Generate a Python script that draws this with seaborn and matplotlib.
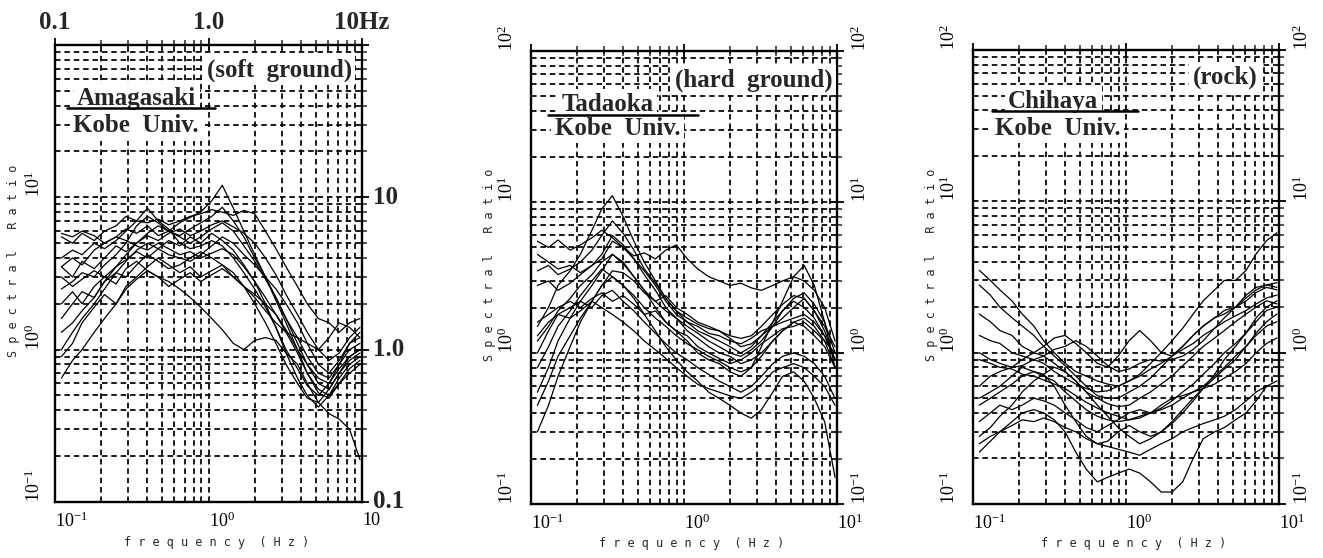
import numpy as np
import pandas as pd
import matplotlib
matplotlib.use("Agg")
import matplotlib.pyplot as plt
from matplotlib.ticker import LogLocator, NullFormatter
import seaborn as sns

# ---------------- data ----------------
freq = [0.11, 0.13, 0.15, 0.18, 0.21, 0.25, 0.29, 0.34, 0.4, 0.47, 0.55, 0.65, 0.76, 0.89,
        1.05, 1.23, 1.45, 1.7, 2.0, 2.35, 2.75, 3.2, 3.8, 4.4, 5.2, 6.1, 7.1, 8.3, 9.7]

amagasaki = [
    [3.5, 4.0, 3.6, 4.5, 5.0, 5.5, 6.2, 5.8, 6.5, 5.6, 6.0, 6.8, 7.4, 8.0, 9.5, 12.0, 8.5, 6.0, 4.2, 3.0, 2.1, 1.5, 1.0, 0.7, 0.52, 0.48, 0.6, 0.75, 0.85],
    [5.5, 5.0, 5.8, 5.2, 6.0, 6.5, 7.5, 7.0, 6.8, 7.2, 6.6, 7.0, 7.5, 7.8, 8.3, 8.0, 7.6, 8.2, 7.8, 6.0, 4.6, 3.5, 2.6, 2.0, 1.6, 1.5, 1.3, 1.5, 1.6],
    [0.65, 0.85, 1.0, 1.3, 1.6, 2.0, 2.5, 2.9, 3.3, 3.0, 2.8, 2.5, 2.2, 1.9, 1.6, 1.35, 1.1, 1.0, 1.15, 1.2, 1.15, 0.95, 0.8, 0.6, 0.45, 0.38, 0.35, 0.3, 0.19],
    [1.0, 1.3, 1.6, 2.0, 2.5, 3.2, 3.8, 4.5, 5.0, 4.6, 5.2, 4.8, 5.5, 5.0, 5.8, 5.2, 4.5, 3.6, 2.8, 2.0, 1.4, 0.95, 0.65, 0.5, 0.42, 0.5, 0.65, 0.8, 0.9],
    [2.5, 2.8, 3.2, 3.0, 3.6, 4.2, 5.0, 6.5, 7.5, 6.8, 6.0, 5.5, 5.0, 5.5, 6.2, 6.8, 6.0, 4.8, 3.8, 2.9, 2.2, 1.6, 1.1, 0.8, 0.6, 0.55, 0.7, 0.9, 1.0],
    [4.0, 4.5, 4.2, 5.0, 4.6, 5.2, 6.0, 7.0, 8.5, 7.0, 6.2, 5.0, 4.6, 4.8, 5.2, 4.8, 4.0, 3.2, 2.5, 1.9, 1.4, 1.0, 0.75, 0.58, 0.5, 0.6, 0.8, 1.1, 1.2],
    [3.0, 2.6, 2.9, 3.3, 3.0, 3.5, 3.9, 4.4, 4.0, 4.6, 4.2, 4.0, 3.8, 4.2, 4.8, 5.5, 5.0, 4.2, 3.6, 3.0, 2.5, 2.0, 1.5, 1.1, 0.8, 0.7, 0.85, 1.1, 1.3],
    [1.6, 2.0, 2.4, 2.2, 2.8, 3.2, 3.0, 3.6, 4.2, 3.8, 3.4, 3.6, 4.0, 4.4, 4.0, 3.6, 3.0, 2.6, 2.3, 2.0, 1.7, 1.35, 1.0, 0.8, 0.65, 0.6, 0.75, 0.9, 1.0],
    [0.9, 1.1, 1.5, 1.9, 2.3, 2.0, 2.6, 3.0, 3.5, 4.0, 3.6, 3.2, 3.5, 3.0, 3.3, 3.6, 3.2, 2.6, 2.0, 1.5, 1.1, 0.8, 0.6, 0.48, 0.45, 0.55, 0.7, 0.85, 0.95],
    [5.8, 5.5, 6.0, 5.6, 5.0, 5.5, 5.2, 4.8, 4.5, 5.0, 4.6, 4.2, 4.4, 4.0, 4.3, 4.6, 4.2, 3.5, 2.8, 2.2, 1.7, 1.3, 0.95, 0.7, 0.55, 0.5, 0.6, 0.7, 0.8],
    [2.0, 2.4, 2.0, 2.6, 3.0, 2.7, 3.4, 3.8, 3.3, 3.0, 2.6, 2.9, 3.2, 2.8, 3.1, 3.4, 3.0, 2.6, 2.2, 1.8, 1.5, 1.3, 1.2, 1.1, 1.0, 1.2, 1.5, 1.4, 1.2],
    [1.3, 1.5, 1.8, 2.2, 2.8, 3.5, 4.2, 5.0, 5.8, 6.5, 6.0, 5.6, 6.2, 6.8, 7.5, 8.6, 7.0, 5.5, 4.0, 3.0, 2.2, 1.6, 1.2, 0.9, 0.7, 0.65, 0.8, 1.0, 1.1],
    [3.5, 3.0, 3.8, 3.4, 4.0, 4.8, 4.4, 5.0, 5.6, 5.2, 5.8, 6.2, 5.6, 6.0, 6.6, 7.0, 6.4, 5.8, 5.0, 4.0, 3.1, 2.3, 1.7, 1.3, 1.0, 0.85, 0.95, 1.2, 1.4],
]

tadaoka = [
    [1.5, 2.0, 2.8, 3.5, 4.5, 6.5, 9.0, 11.0, 8.0, 5.5, 4.0, 3.0, 2.3, 1.9, 1.6, 1.4, 1.3, 1.2, 1.1, 1.0, 1.1, 1.3, 1.6, 1.9, 2.2, 2.0, 1.7, 1.3, 0.9],
    [5.5, 5.0, 5.6, 4.8, 5.2, 5.8, 6.5, 5.8, 5.0, 4.4, 4.6, 4.2, 4.8, 5.2, 4.2, 3.6, 3.2, 3.0, 2.8, 2.9, 2.7, 2.6, 2.8, 3.0, 3.2, 3.0, 2.6, 2.0, 1.2],
    [0.3, 0.45, 0.7, 1.1, 1.6, 2.2, 2.8, 3.2, 2.8, 2.3, 1.8, 1.4, 1.1, 0.9, 0.75, 0.65, 0.55, 0.5, 0.45, 0.4, 0.37, 0.42, 0.55, 0.7, 0.75, 0.65, 0.5, 0.35, 0.15],
    [0.55, 0.8, 1.2, 1.7, 2.2, 2.8, 3.5, 4.5, 4.0, 3.2, 2.6, 2.0, 1.6, 1.4, 1.2, 1.0, 0.9, 0.85, 0.75, 0.7, 0.8, 1.1, 1.6, 2.2, 3.2, 3.8, 2.8, 1.6, 0.8],
    [4.5, 4.0, 3.6, 3.8, 3.4, 3.8, 4.2, 5.5, 5.0, 4.2, 3.5, 2.8, 2.2, 1.8, 1.6, 1.5, 1.35, 1.3, 1.2, 1.15, 1.25, 1.4, 1.5, 1.6, 1.7, 1.8, 1.6, 1.3, 0.9],
    [2.8, 3.0, 2.6, 2.9, 3.3, 3.8, 4.5, 6.0, 5.2, 4.2, 3.3, 2.6, 2.0, 1.7, 1.4, 1.25, 1.1, 1.0, 0.95, 0.85, 0.9, 1.0, 1.2, 1.4, 1.6, 1.7, 1.5, 1.2, 0.8],
    [1.2, 1.5, 1.9, 2.3, 2.8, 3.3, 4.0, 4.5, 3.9, 3.2, 2.6, 2.2, 2.4, 2.0, 1.8, 1.6, 1.5, 1.4, 1.25, 1.1, 1.15, 1.3, 1.5, 1.7, 2.0, 2.3, 1.9, 1.4, 0.9],
    [1.0, 1.4, 1.8, 2.0, 2.2, 2.0, 2.4, 2.6, 2.2, 1.9, 1.6, 1.35, 1.15, 1.0, 0.9, 0.8, 0.72, 0.65, 0.6, 0.55, 0.6, 0.7, 0.85, 0.95, 1.0, 0.95, 0.85, 0.7, 0.5],
    [1.6, 1.8, 2.0, 2.2, 2.0, 2.3, 2.5, 2.2, 2.4, 2.1, 1.8, 1.9, 1.6, 1.4, 1.3, 1.1, 1.0, 0.92, 0.85, 0.9, 1.0, 1.15, 1.3, 1.45, 1.5, 1.6, 1.4, 1.2, 1.0],
    [0.45, 0.65, 0.95, 1.3, 1.7, 2.2, 2.8, 3.5, 3.4, 3.0, 2.5, 2.2, 1.9, 1.7, 1.5, 1.35, 1.2, 1.1, 1.0, 0.95, 1.05, 1.2, 1.5, 1.9, 2.3, 2.5, 2.1, 1.6, 1.0],
    [1.3, 1.6, 1.8, 1.7, 1.9, 2.2, 2.0, 1.8, 1.6, 1.4, 1.2, 1.05, 0.92, 0.8, 0.7, 0.62, 0.58, 0.55, 0.52, 0.5, 0.55, 0.62, 0.75, 0.8, 0.85, 0.8, 0.7, 0.6, 0.45],
    [3.5, 3.8, 3.3, 3.6, 4.0, 4.8, 6.0, 7.5, 6.2, 4.8, 3.6, 2.9, 2.3, 1.9, 1.7, 1.55, 1.45, 1.4, 1.3, 1.25, 1.3, 1.5, 1.8, 2.1, 2.4, 2.3, 1.9, 1.5, 1.1],
    [0.8, 1.1, 1.5, 1.9, 2.4, 3.0, 3.6, 3.2, 2.8, 2.4, 2.0, 1.7, 1.5, 1.3, 1.15, 1.05, 0.95, 0.88, 0.8, 0.75, 0.8, 0.95, 1.2, 1.4, 1.6, 1.5, 1.3, 1.1, 0.8],
]

chihaya = [
    [3.5, 3.0, 2.6, 2.2, 1.8, 1.5, 1.2, 1.0, 0.85, 0.75, 0.7, 0.65, 0.62, 0.6, 0.65, 0.72, 0.85, 1.0, 1.2, 1.45, 1.8, 2.2, 2.6, 3.0, 3.0, 3.5, 4.5, 5.5, 6.2],
    [0.22, 0.26, 0.3, 0.35, 0.4, 0.42, 0.4, 0.36, 0.3, 0.22, 0.17, 0.14, 0.15, 0.16, 0.17, 0.16, 0.14, 0.12, 0.12, 0.14, 0.2, 0.27, 0.3, 0.32, 0.36, 0.4, 0.48, 0.6, 0.65],
    [2.8, 2.4, 2.0, 1.7, 1.5, 1.3, 1.1, 0.95, 0.82, 0.7, 0.6, 0.52, 0.5, 0.5, 0.55, 0.6, 0.68, 0.8, 0.95, 1.1, 1.3, 1.5, 1.7, 1.8, 2.0, 2.4, 2.7, 2.8, 2.7],
    [0.6, 0.7, 0.75, 0.8, 0.9, 1.0, 1.1, 1.25, 1.3, 1.15, 1.0, 0.85, 0.8, 0.95, 1.2, 1.4, 1.2, 1.0, 0.95, 1.1, 1.3, 1.5, 1.7, 1.9, 2.0, 2.2, 2.5, 2.7, 2.6],
    [0.35, 0.4, 0.45, 0.42, 0.45, 0.5, 0.48, 0.45, 0.4, 0.36, 0.32, 0.3, 0.33, 0.36, 0.4, 0.42, 0.4, 0.42, 0.45, 0.5, 0.55, 0.6, 0.7, 0.8, 0.95, 1.1, 1.3, 1.5, 1.6],
    [1.8, 1.6, 1.4, 1.3, 1.1, 1.0, 0.95, 0.85, 0.75, 0.65, 0.55, 0.5, 0.46, 0.44, 0.45, 0.5, 0.55, 0.62, 0.7, 0.82, 0.95, 1.1, 1.25, 1.4, 1.6, 1.8, 2.0, 2.2, 2.1],
    [1.0, 0.9, 0.85, 0.8, 0.82, 0.9, 0.85, 0.75, 0.68, 0.62, 0.58, 0.55, 0.56, 0.6, 0.65, 0.7, 0.78, 0.85, 0.95, 1.05, 1.15, 1.3, 1.45, 1.6, 1.75, 1.9, 2.1, 2.3, 2.4],
    [0.28, 0.32, 0.38, 0.45, 0.55, 0.65, 0.72, 0.8, 0.75, 0.65, 0.55, 0.45, 0.38, 0.32, 0.28, 0.25, 0.27, 0.3, 0.35, 0.42, 0.5, 0.58, 0.68, 0.78, 0.9, 1.1, 1.35, 1.6, 1.8],
    [0.5, 0.55, 0.6, 0.7, 0.8, 0.75, 0.7, 0.65, 0.55, 0.48, 0.42, 0.38, 0.36, 0.35, 0.36, 0.38, 0.4, 0.45, 0.5, 0.52, 0.55, 0.58, 0.62, 0.68, 0.75, 0.85, 1.0, 1.15, 1.25],
    [0.9, 0.85, 0.8, 0.78, 0.72, 0.7, 0.66, 0.62, 0.58, 0.52, 0.47, 0.43, 0.4, 0.38, 0.36, 0.37, 0.4, 0.43, 0.48, 0.55, 0.62, 0.72, 0.85, 1.0, 1.15, 1.35, 1.6, 1.9, 2.0],
    [0.25, 0.28, 0.3, 0.33, 0.36, 0.35, 0.37, 0.35, 0.32, 0.3, 0.27, 0.25, 0.24, 0.23, 0.22, 0.21, 0.23, 0.25, 0.27, 0.3, 0.32, 0.34, 0.36, 0.38, 0.42, 0.48, 0.55, 0.6, 0.6],
    [1.3, 1.2, 1.15, 1.0, 0.95, 0.9, 0.95, 1.05, 1.1, 1.2, 1.1, 0.95, 0.82, 0.75, 0.78, 0.85, 0.9, 0.88, 0.9, 0.95, 1.05, 1.2, 1.45, 1.7, 2.0, 2.3, 2.6, 2.8, 2.9],
    [0.45, 0.5, 0.55, 0.62, 0.7, 0.75, 0.72, 0.6, 0.45, 0.35, 0.28, 0.25, 0.26, 0.3, 0.33, 0.3, 0.28, 0.3, 0.34, 0.4, 0.48, 0.58, 0.72, 0.9, 1.1, 1.35, 1.7, 2.0, 2.2],
]

stations = ["Amagasaki", "Tadaoka", "Chihaya"]
site_classes = ["(soft  ground)", "(hard  ground)", "(rock)"]
institution = "Kobe  Univ."
x_ticks = [0.1, 1.0, 10.0]
y_ticks = [0.1, 1.0, 10.0, 100.0]
x_ticklabels = [["$10^{-1}$", "$10^{0}$", "10"],
                ["$10^{-1}$", "$10^{0}$", "$10^{1}$"],
                ["$10^{-1}$", "$10^{0}$", "$10^{1}$"]]
y_ticklabels_left = [["$10^{-1}$", "$10^{0}$", "$10^{1}$", ""],
                     ["$10^{-1}$", "$10^{0}$", "$10^{1}$", "$10^{2}$"],
                     ["$10^{-1}$", "$10^{0}$", "$10^{1}$", "$10^{2}$"]]
y_ticklabels_right = [None,
                      ["$10^{-1}$", "$10^{0}$", "$10^{1}$", ""],
                      ["$10^{-1}$", "$10^{0}$", "$10^{1}$", ""]]
top_labels = ["0.1", "1.0", "10Hz"]
right_labels = ["0.1", "1.0", "10"]


def long_form(curves):
    rows = []
    for i, c in enumerate(curves):
        for f, v in zip(freq, c):
            rows.append({"curve": i, "f": f, "ratio": v})
    return pd.DataFrame(rows)


# ---------------- style ----------------
sns.set_style("white")
plt.rcParams["font.family"] = ["Liberation Serif", "DejaVu Serif"]
plt.rcParams["mathtext.fontset"] = "custom"
plt.rcParams["mathtext.rm"] = "Liberation Serif"
plt.rcParams["mathtext.it"] = "Liberation Serif:italic"
plt.rcParams["mathtext.bf"] = "Liberation Serif:bold"

fig = plt.figure(figsize=(13.23, 5.58), dpi=100)
fig.patch.set_facecolor("white")

boxes = [
    [0.0416, 0.1004, 0.2320, 0.8190],
    [0.4014, 0.0968, 0.2313, 0.8118],
    [0.7354, 0.0968, 0.2313, 0.8136],
]
# text anchors in axes fraction: class label (right x, y), station (left x, y),
# underline (x0, x1, y), institution (left x, y)
layout = [
    dict(cls=(0.967, 0.945), st=(0.072, 0.882), ul=(0.039, 0.52, 0.862), inst=(0.059, 0.823)),
    dict(cls=(0.985, 0.936), st=(0.100, 0.882), ul=(0.056, 0.546, 0.858), inst=(0.078, 0.830)),
    dict(cls=(0.930, 0.940), st=(0.115, 0.887), ul=(0.062, 0.540, 0.866), inst=(0.072, 0.828)),
]

datasets = [amagasaki, tadaoka, chihaya]
grid_ls = (0, (3.2, 2.2))
mono = "DejaVu Sans Mono"

for k, (box, data) in enumerate(zip(boxes, datasets)):
    ax = fig.add_axes(box)
    df = long_form(data)
    sns.lineplot(data=df, x="f", y="ratio", units="curve", estimator=None,
                 color="black", linewidth=0.9, ax=ax, legend=False, zorder=3)
    ax.set_xscale("log")
    ax.set_yscale("log")
    ax.set_xlim(0.1, 10)
    ax.set_ylim(0.1, 100)

    ax.set_xticks(x_ticks)
    ax.set_xticklabels(x_ticklabels[k], ha="left", fontsize=13)
    ax.set_yticks(y_ticks)
    ax.set_yticklabels(y_ticklabels_left[k], rotation=90, va="bottom", fontsize=13)
    ax.xaxis.set_minor_locator(LogLocator(base=10, subs=np.arange(2, 10)))
    ax.yaxis.set_minor_locator(LogLocator(base=10, subs=np.arange(2, 10)))
    ax.xaxis.set_minor_formatter(NullFormatter())
    ax.yaxis.set_minor_formatter(NullFormatter())

    ax.grid(True, which="both", color="black", linestyle=grid_ls, linewidth=1.25, zorder=1)
    ax.set_axisbelow(True)
    ax.tick_params(which="major", direction="inout", length=10, width=1.3,
                   top=True, right=True, colors="black")
    ax.tick_params(which="minor", direction="inout", length=7, width=1.1,
                   top=True, right=True)
    ax.tick_params(axis="x", pad=2)
    ax.tick_params(axis="y", pad=3)
    for sp in ax.spines.values():
        sp.set_color("black")
        sp.set_linewidth(1.7)

    if y_ticklabels_right[k] is not None:
        ax.tick_params(axis="y", labelright=True, pad=5)
        for t, lab in zip(ax.yaxis.get_major_ticks(), y_ticklabels_right[k]):
            t.label2.set_text(lab)
            t.label2.set_rotation(90)
            t.label2.set_va("bottom")
            t.label2.set_fontsize(13)
    ax.set_xlabel("")
    ax.set_ylabel("")

    # axis titles in typewriter lettering
    ax.text(-0.136, 0.527, "S p e c t r a l   R a t i o", family=mono, fontsize=8.5,
            rotation=90, ha="center", va="center", transform=ax.transAxes)
    ax.text(0.525, -0.088, "f r e q u e n c y  ( H z )", family=mono, fontsize=8.5,
            ha="center", va="center", transform=ax.transAxes)

    # station annotations
    L = layout[k]
    white = dict(facecolor="white", edgecolor="none", pad=2.5)
    ax.text(L["cls"][0], L["cls"][1], site_classes[k], ha="right", va="center",
            fontsize=18, fontweight="bold", transform=ax.transAxes, bbox=white, zorder=4)
    ax.text(L["st"][0], L["st"][1], stations[k], ha="left", va="center",
            fontsize=18, fontweight="bold", transform=ax.transAxes, bbox=white, zorder=4)
    ax.plot([L["ul"][0], L["ul"][1]], [L["ul"][2], L["ul"][2]], color="black",
            linewidth=1.8, transform=ax.transAxes, zorder=5)
    ax.text(L["inst"][0], L["inst"][1], institution, ha="left", va="center",
            fontsize=18, fontweight="bold", transform=ax.transAxes, bbox=white, zorder=4)

    if k == 0:
        # bold reference scale along the top and right edges
        for xv, lab in zip(x_ticks, top_labels):
            ax.text(xv, 1.05, lab, ha="center", va="center", fontsize=18, fontweight="bold",
                    transform=ax.get_xaxis_transform())
        for yv, lab in zip([0.1, 1.0, 10.0], right_labels):
            ax.text(1.035, yv, lab, ha="left", va="center", fontsize=18, fontweight="bold",
                    transform=ax.get_yaxis_transform())

fig.savefig("out.png", dpi=100, facecolor="white")
